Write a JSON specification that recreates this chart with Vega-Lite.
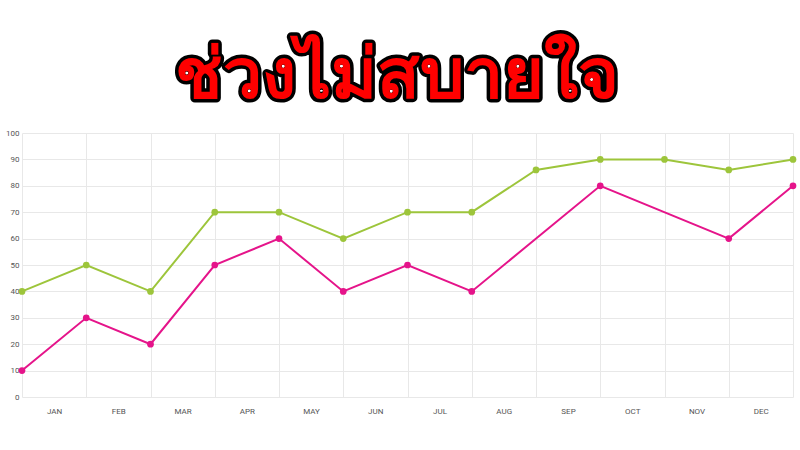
{
  "$schema": "https://vega.github.io/schema/vega-lite/v6.json",
  "width": 771,
  "height": 264,
  "autosize": {"type": "none"},
  "padding": {"left": 22, "top": 133, "right": 7, "bottom": 53},
  "background": "white",
  "title": {
    "text": "ช่วงไม่สบายใจ",
    "subtitle": "ช่วงไม่สบายใจ",
    "style": "bigtitle",
    "fontSize": 70,
    "fontWeight": "bold",
    "lineHeight": 70,
    "subtitleFontSize": 70,
    "subtitleFontWeight": "bold",
    "subtitleLineHeight": 70,
    "subtitlePadding": -70,
    "subtitleColor": "#ff0000",
    "color": "#000000",
    "offset": 16,
    "anchor": "middle",
    "dx": -11
  },
  "config": {
    "view": {"stroke": null},
    "style": {"bigtitle": {"stroke": "#000000", "strokeWidth": 7, "strokeJoin": "round"}},
    "axis": {"labelFont": "Roboto", "labelFontSize": 8, "labelColor": "#555555", "gridColor": "#e8e8e8", "gridWidth": 1, "domain": false, "ticks": false, "title": null}
  },
  "data": {
    "values": [
      {"i": 0, "s": "A", "v": 40}, {"i": 1, "s": "A", "v": 50}, {"i": 2, "s": "A", "v": 40},
      {"i": 3, "s": "A", "v": 70}, {"i": 4, "s": "A", "v": 70}, {"i": 5, "s": "A", "v": 60},
      {"i": 6, "s": "A", "v": 70}, {"i": 7, "s": "A", "v": 70}, {"i": 8, "s": "A", "v": 86},
      {"i": 9, "s": "A", "v": 90}, {"i": 10, "s": "A", "v": 90}, {"i": 11, "s": "A", "v": 86},
      {"i": 12, "s": "A", "v": 90},
      {"i": 0, "s": "B", "v": 10}, {"i": 1, "s": "B", "v": 30}, {"i": 2, "s": "B", "v": 20},
      {"i": 3, "s": "B", "v": 50}, {"i": 4, "s": "B", "v": 60}, {"i": 5, "s": "B", "v": 40},
      {"i": 6, "s": "B", "v": 50}, {"i": 7, "s": "B", "v": 40}, {"i": 9, "s": "B", "v": 80},
      {"i": 11, "s": "B", "v": 60}, {"i": 12, "s": "B", "v": 80}
    ]
  },
  "mark": {"type": "line", "strokeWidth": 2, "point": {"filled": true, "size": 45, "opacity": 1}},
  "encoding": {
    "x": {
      "field": "i",
      "type": "quantitative",
      "scale": {"domain": [0, 12], "nice": false, "zero": false},
      "axis": {
        "values": [0, 1, 2, 3, 4, 5, 6, 7, 8, 9, 10, 11, 12],
        "grid": true,
        "labelExpr": "datum.value < 12 ? ['JAN','FEB','MAR','APR','MAY','JUN','JUL','AUG','SEP','OCT','NOV','DEC'][datum.value] : ''",
        "labelOffset": 32,
        "labelPadding": 10,
        "labelFlush": false,
        "labelOverlap": false,
        "labelAlign": "center"
      }
    },
    "y": {
      "field": "v",
      "type": "quantitative",
      "scale": {"domain": [0, 100], "nice": false},
      "axis": {
        "values": [0, 10, 20, 30, 40, 50, 60, 70, 80, 90, 100],
        "grid": true,
        "labelPadding": 3
      }
    },
    "color": {
      "field": "s",
      "type": "nominal",
      "scale": {"domain": ["A", "B"], "range": ["#9dc53b", "#e5148a"]},
      "legend": null
    }
  }
}
